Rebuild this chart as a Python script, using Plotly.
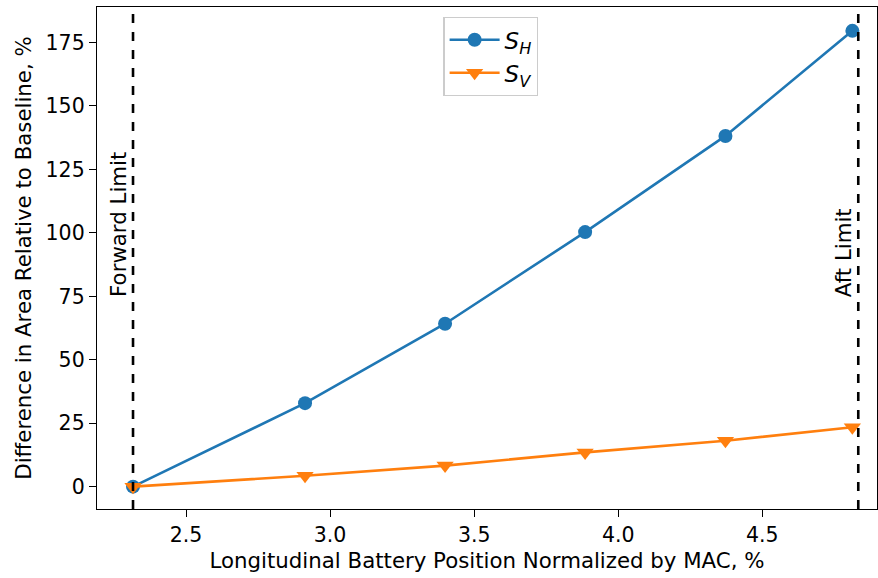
import plotly.graph_objects as go

x_pos = [2.316, 2.913, 3.399, 3.885, 4.372, 4.8125]
s_h = [0.0, 32.9, 64.2, 100.3, 138.2, 179.6]
s_v = [0.0, 4.3, 8.3, 13.5, 18.1, 23.4]
forward_limit = 2.316
aft_limit = 4.833
x_ticks = [2.5, 3.0, 3.5, 4.0, 4.5]
y_ticks = [0, 25, 50, 75, 100, 125, 150, 175]

FONT = "DejaVu Sans"
FS = 21.3
fig = go.Figure()
fig.add_trace(go.Scatter(x=x_pos, y=s_h, mode="lines+markers",
                         name="<i>S</i><sub><i>H</i></sub>",
                         line=dict(color="#1f77b4", width=2.6),
                         marker=dict(symbol="circle", size=14, color="#1f77b4")))
fig.add_trace(go.Scatter(x=x_pos, y=s_v, mode="lines+markers",
                         name="<i>S</i><sub><i>V</i></sub>",
                         line=dict(color="#ff7f0e", width=2.6),
                         marker=dict(symbol="triangle-down", size=15, color="#ff7f0e")))

for xv in (forward_limit, aft_limit):
    fig.add_shape(type="line", xref="x", yref="paper", x0=xv, x1=xv, y0=0, y1=1,
                  line=dict(color="black", width=2.6, dash="dash"))

fig.add_annotation(x=forward_limit, y=74, xref="x", yref="y", text="Forward Limit",
                   textangle=-90, showarrow=False, xanchor="right", yanchor="bottom",
                   font=dict(family=FONT, size=FS, color="black"))
fig.add_annotation(x=aft_limit, y=74, xref="x", yref="y", text="Aft Limit",
                   textangle=-90, showarrow=False, xanchor="right", yanchor="bottom",
                   font=dict(family=FONT, size=FS, color="black"))

axis_common = dict(showgrid=False, zeroline=False, showline=True, linecolor="black",
                   linewidth=1.4, mirror=True, ticks="outside", ticklen=7, tickwidth=1.4,
                   tickcolor="black", tickfont=dict(family=FONT, size=20.5, color="black"))
fig.update_xaxes(range=[2.191, 4.898], tickvals=x_ticks,
                 ticktext=[f"{v:.1f}" for v in x_ticks],
                 title=dict(text="Longitudinal Battery Position Normalized by MAC, %",
                            font=dict(family=FONT, size=FS, color="black"), standoff=7),
                 **axis_common)
fig.update_yaxes(range=[-8.8, 189.0], tickvals=y_ticks,
                 title=dict(text="Difference in Area Relative to Baseline, %",
                            font=dict(family=FONT, size=FS, color="black"), standoff=8),
                 **axis_common)
fig.update_layout(width=878, height=578, margin=dict(l=97, r=1, t=7, b=69),
                  plot_bgcolor="white", paper_bgcolor="white",
                  font=dict(family=FONT, size=FS, color="black"),
                  legend=dict(x=0.444, y=0.98, xanchor="left", yanchor="top",
                              bgcolor="rgba(255,255,255,0.8)", bordercolor="#cccccc",
                              borderwidth=1.3, font=dict(family=FONT, size=23),
                              itemwidth=50),
                  showlegend=True)
fig.write_html("out.html")
